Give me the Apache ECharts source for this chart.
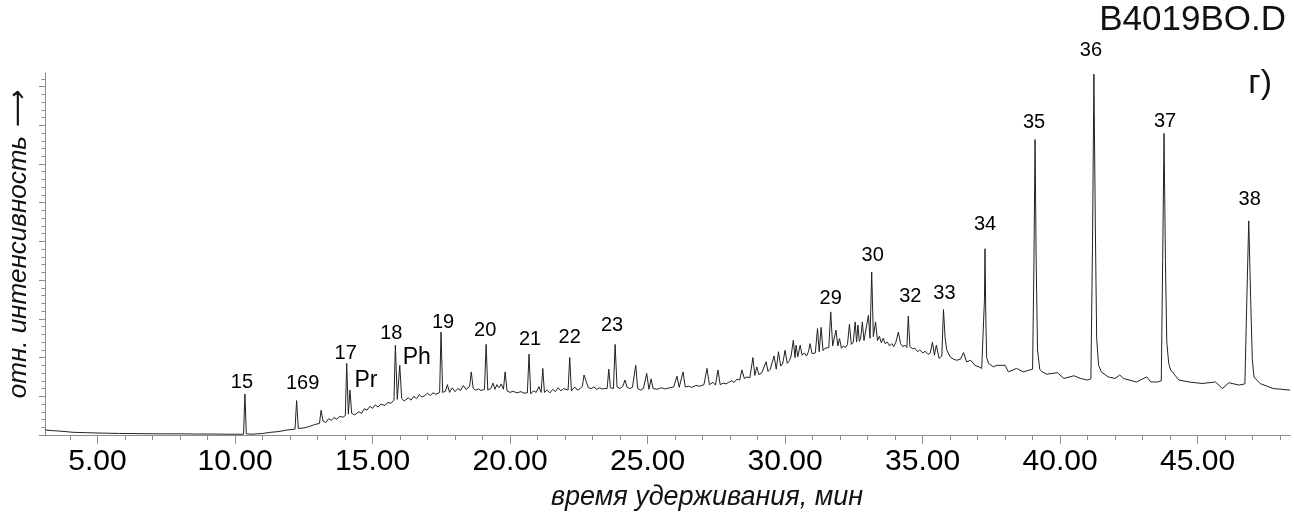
<!DOCTYPE html>
<html>
<head>
<meta charset="utf-8">
<script src="https://cdn.jsdelivr.net/npm/echarts@6/dist/echarts.min.js"></script>
<style>
html, body { margin: 0; padding: 0; background: #fff; }
#chart { width: 1294px; height: 517px; }
</style>
</head>
<body>
<div id="chart"></div>
<script>
// retention time (min), relative intensity
const traceA = [
  [3.09,1.3],[3.4,1.1],[3.64,1.0],[4.11,0.7],[4.6,0.6],[5.09,0.5],[5.8,0.4],[6.55,0.35],[7.3,0.3],[8.0,0.3],
  [8.6,0.25],[9.09,0.25],[9.7,0.2],[10.18,0.2],[10.31,0.2],[10.36,10.6],[10.41,0.3],[10.6,0.2],[11.0,0.4],[11.3,0.7],
  [11.6,0.9],[11.9,1.3],[12.18,1.5],[12.24,8.9],[12.3,1.7],[12.5,1.8],[12.7,2.2],[12.9,2.7],[13.07,3.0],[13.13,6.4],
  [13.2,3.6],[13.3,3.2],[13.4,4.2],[13.5,3.8],[13.6,4.5],[13.7,4.1],[13.8,4.8],[13.92,4.6],[14.01,5.0],[14.06,18.5],
  [14.12,5.4],[14.18,11.6],[14.24,5.6],[14.35,5.2],[14.5,6.0],[14.6,5.6],[14.7,6.8],[14.8,6.4],[14.9,7.4],[15.0,6.9],
  [15.1,7.8],[15.2,7.2],[15.3,8.0],[15.45,7.6],[15.55,8.4],[15.67,8.2],[15.78,9.0],[15.83,23.2],[15.9,9.2],[15.99,18.0],
  [16.06,9.4],[16.15,8.8],[16.3,9.6],[16.4,9.0],[16.5,10.0],[16.6,9.4],[16.7,10.4],[16.8,9.8],[16.9,10.2],[17.0,10.8],
  [17.1,10.2],[17.2,10.9],[17.3,10.5],[17.44,11.0],[17.49,26.6],[17.55,11.0]
];
const traceB = [
  [17.65,11.3],[17.72,13.0],[17.8,11.0],[17.9,12.2],[18.0,11.2],[18.1,12.0],[18.2,11.5],[18.3,12.8],[18.4,11.8],[18.53,12.5],
  [18.59,16.3],[18.66,12.0],[18.75,11.6],[18.85,11.9],[18.95,11.5],[19.07,11.8],[19.13,23.4],[19.19,11.6],[19.3,12.0],[19.38,13.4],
  [19.45,11.8],[19.52,13.0],[19.6,12.2],[19.68,13.2],[19.76,11.8],[19.82,16.3],[19.89,11.4],[20.0,11.0],[20.1,11.3],[20.25,10.9],
  [20.4,11.2],[20.5,10.8],[20.63,10.9],[20.69,20.9],[20.75,10.6],[20.85,11.4],[20.95,11.0],[21.05,12.5],[21.13,11.0],[21.19,17.2],
  [21.25,11.0],[21.35,11.6],[21.45,10.9],[21.55,11.8],[21.65,11.2],[21.75,12.2],[21.85,11.4],[21.95,12.0],[22.11,11.6],[22.17,20.0],
  [22.23,11.4],[22.35,12.4],[22.45,11.6],[22.55,12.0],[22.63,12.6],[22.69,15.5],[22.76,14.0],[22.85,12.2],[22.95,12.0],[23.05,12.4],
  [23.15,11.8],[23.25,12.2],[23.35,11.9],[23.45,12.0],[23.53,12.0],[23.59,17.0],[23.65,12.2],[23.76,12.0],[23.82,23.4],[23.89,12.4],
  [24.0,12.0],[24.1,12.6],[24.18,14.2],[24.25,12.4],[24.35,12.0],[24.45,12.3],[24.57,18.0],[24.64,12.0],[24.75,11.6],[24.85,12.0],
  [24.97,15.9],[25.05,11.8],[25.13,14.5],[25.2,12.0],[25.35,11.8],[25.5,12.2],[25.65,11.9],[25.8,12.2],[25.95,12.4],[26.07,15.2],
  [26.15,12.3],[26.22,12.5],[26.29,16.3],[26.37,12.4],[26.5,12.6],[26.6,12.3],[26.75,12.8],[26.9,12.6],[27.05,13.0],[27.16,17.2],
  [27.25,13.0],[27.38,13.6],[27.47,12.9],[27.56,16.8],[27.64,13.0],[27.75,13.4],[27.85,13.2],[27.95,13.6],[28.05,14.0],[28.15,13.6],
  [28.25,14.4],[28.35,14.2],[28.43,16.8],[28.52,14.6],[28.62,15.0],[28.72,14.8],[28.83,20.0],[28.9,15.4],[28.97,17.6],[29.05,15.6],
  [29.15,16.0],[29.22,16.2],[29.31,18.9],[29.38,16.4],[29.46,17.0],[29.53,16.6],[29.6,20.4],[29.68,17.0],[29.76,21.5],[29.84,17.8],
  [29.92,18.6],[30.0,21.9],[30.08,18.5],[30.16,19.2],[30.22,20.4],[30.3,24.5],[30.36,20.0],[30.4,23.2],[30.46,20.2],[30.55,23.2],
  [30.62,20.6],[30.7,21.2],[30.78,20.4],[30.85,21.5],[30.91,23.6],[30.98,21.0],[31.05,21.4],[31.1,21.2],[31.18,27.5],[31.24,21.5],
  [31.31,27.8],[31.38,21.8],[31.45,22.4],[31.52,22.0],[31.59,22.6],[31.66,31.8],[31.73,23.0],[31.8,23.4],[31.85,27.1],[31.92,23.0],
  [31.98,24.9],[32.05,22.4],[32.12,23.0],[32.2,22.6],[32.27,23.4],[32.34,28.6],[32.41,23.4],[32.48,24.0],[32.55,29.2],[32.6,24.0],
  [32.65,28.4],[32.7,24.2],[32.75,25.0],[32.81,29.2],[32.87,24.4],[32.93,24.4],[33.03,30.9],[33.09,25.0],[33.15,42.1],[33.21,25.4],
  [33.29,29.2]
];
const traceC = [
  [33.36,24.4],[33.43,25.5],[33.5,23.8],[33.57,25.0],[33.64,23.6],[33.72,24.0],[33.8,23.0],[33.88,23.6],[33.95,22.8],[34.03,24.0],
  [34.12,26.6],[34.2,23.6],[34.28,22.8],[34.36,23.2],[34.43,22.6],[34.48,30.7],[34.54,22.8],[34.64,22.3],[34.72,22.4],[34.82,21.5],
  [34.9,22.0],[35.0,21.2],[35.1,21.6],[35.2,20.8],[35.28,21.2],[35.36,24.0],[35.43,20.6],[35.5,23.2],[35.6,19.8],[35.7,20.4],
  [35.76,32.4],[35.82,25.0],[35.88,22.0],[36.0,20.2],[36.12,19.6],[36.24,19.3],[36.38,19.6],[36.49,21.3],[36.6,18.9],[36.75,19.3],
  [36.9,18.0],[37.05,17.6],[37.15,17.2],[37.22,17.6],[37.25,35.0],[37.27,48.1],[37.3,30.0],[37.33,20.0],[37.4,18.5],[37.57,17.6],
  [37.7,18.0],[38.0,18.0],[38.12,16.3],[38.42,17.2],[38.66,16.3],[38.9,16.8],[39.0,17.0],[39.05,45.0],[39.09,76.3],[39.13,45.0],
  [39.18,22.0],[39.26,17.0],[39.35,16.3],[39.52,15.7],[39.9,16.1],[40.14,14.6],[40.5,15.3],[40.75,14.6],[41.0,14.2],[41.12,14.5],
  [41.18,50.0],[41.23,93.2],[41.28,55.0],[41.33,25.0],[41.4,18.0],[41.5,16.3],[41.75,15.0],[42.0,14.6],[42.17,15.5],[42.3,14.6],
  [42.78,13.7],[43.15,15.0],[43.3,13.7],[43.55,13.7],[43.68,14.0],[43.73,45.0],[43.78,77.9],[43.83,45.0],[43.88,24.0],[43.95,18.5],
  [44.02,16.8],[44.32,14.2],[44.68,13.7],[45.17,13.3],[45.65,13.7],[45.9,12.0],[46.14,13.5],[46.5,12.9],[46.72,13.2],[46.79,35.0],
  [46.86,55.3],[46.93,35.0],[46.99,19.5],[47.05,15.0],[47.27,13.3],[47.75,12.0],[48.36,11.6]
];

const peakNames = ['15','169','17','Pr','18','Ph','19','20','21','22','23','29','30','32','33','34','35','36','37','38'];
const peakTimes = [10.36,12.24,14.06,14.18,15.83,15.99,17.49,19.13,20.69,22.17,23.82,31.66,33.15,34.48,35.76,37.27,39.09,41.23,43.78,46.86];

const majorTicks = [5,10,15,20,25,30,35,40,45];
const minorTicks = [4,6,7,8,9,11,12,13,14,16,17,18,19,21,22,23,24,26,27,28,29,31,32,33,34,36,37,38,39,41,42,43,44,46,47,48];
const yMajorTicks = [0,10,20,30,40,50,60,70,80,90];
const yMinorTicks = [2,4,6,8,12,14,16,18,22,24,26,28,32,34,36,38,42,44,46,48,52,54,56,58,62,64,66,68,72,74,76,78,82,84,86,88,92];

// label nudges in pixels (dx, dy from the peak top)
const labelShift = [[-3,-11],[6,-17],[-1,-10],[16,-9],[-4,-12],[17,-8],[2,-10],[-1,-14],[1,-15],[0,-20],
  [-3,-19],[0,-13],[1,-17],[2,-20],[1,-16],[0,-24],[-1,-17],[-3,-24],[1,-12],[1,-21]];

const trace = traceA.concat(traceB, traceC);
function topAt(t) {
  let best = trace[0];
  trace.forEach(p => { if (Math.abs(p[0] - t) < Math.abs(best[0] - t)) best = p; });
  return best[1];
}
const labelData = peakNames.map((name, i) => ({
  value: [peakTimes[i], topAt(peakTimes[i])],
  label: {
    formatter: name,
    offset: labelShift[i],
    fontSize: /[A-Z]/.test(name) ? 23 : 20
  }
}));

const FONT = 'Liberation Sans, Arial, sans-serif';
const AXIS = '#8c8c8c';
const xMin = 3.09, xMax = 48.36, yMax = 93.5;

let myChart = echarts.init(document.getElementById('chart'));
myChart.setOption({
  animation: false,
  grid: { left: 45, right: 4, top: 73, bottom: 82, outerBoundsMode: 'none' },
  xAxis: [
    {
      type: 'value', min: xMin, max: xMax, position: 'bottom',
      axisLine: { show: true, onZero: false, lineStyle: { color: AXIS, width: 1 } },
      axisTick: { show: true, length: 9, customValues: majorTicks, lineStyle: { color: AXIS } },
      axisLabel: {
        show: true, customValues: majorTicks, margin: 12,
        fontFamily: FONT, fontSize: 30, color: '#000',
        formatter: v => v.toFixed(2)
      },
      splitLine: { show: false }
    },
    {
      type: 'value', min: xMin, max: xMax, position: 'bottom',
      axisLine: { show: false },
      axisTick: { show: true, length: 5, customValues: minorTicks, lineStyle: { color: AXIS } },
      axisLabel: { show: false },
      splitLine: { show: false }
    }
  ],
  yAxis: [
    {
      type: 'value', min: 0, max: yMax, position: 'left',
      axisLine: { show: true, onZero: false, lineStyle: { color: AXIS, width: 1 } },
      axisTick: { show: true, length: 6, customValues: yMajorTicks, lineStyle: { color: AXIS } },
      axisLabel: { show: false },
      splitLine: { show: false }
    },
    {
      type: 'value', min: 0, max: yMax, position: 'left',
      axisLine: { show: false },
      axisTick: { show: true, length: 3.5, customValues: yMinorTicks, lineStyle: { color: AXIS } },
      axisLabel: { show: false },
      splitLine: { show: false }
    }
  ],
  series: [
    {
      type: 'line',
      data: trace,
      showSymbol: false,
      symbol: 'none',
      lineStyle: { color: '#222', width: 1 },
      silent: true
    },
    {
      type: 'scatter',
      data: labelData,
      symbolSize: 1,
      itemStyle: { color: 'rgba(0,0,0,0)', opacity: 1 },
      silent: true,
      z: 5,
      label: {
        show: true, position: 'inside', opacity: 1,
        fontFamily: FONT, color: '#000'
      }
    }
  ],
  graphic: [
    {
      type: 'text', x: 1286, y: 20,
      style: { text: 'B4019BO.D', font: '35px ' + FONT, fill: '#111', textAlign: 'right', textVerticalAlign: 'middle' }
    },
    {
      type: 'text', x: 1272, y: 84,
      style: { text: 'г)', font: '34px ' + FONT, fill: '#111', textAlign: 'right', textVerticalAlign: 'middle' }
    },
    {
      type: 'text', x: 707, y: 497,
      style: { text: 'время удерживания, мин', font: 'italic 27px ' + FONT, fill: '#111', textAlign: 'center', textVerticalAlign: 'middle' }
    },
    {
      type: 'text', x: 19, y: 245, rotation: Math.PI / 2,
      style: { text: 'отн. интенсивность ⟶', font: 'italic 26px ' + FONT, fill: '#111', textAlign: 'center', textVerticalAlign: 'middle' }
    }
  ]
});
window.onresize = function () {
  myChart.resize();
};
</script>
</body>
</html>
